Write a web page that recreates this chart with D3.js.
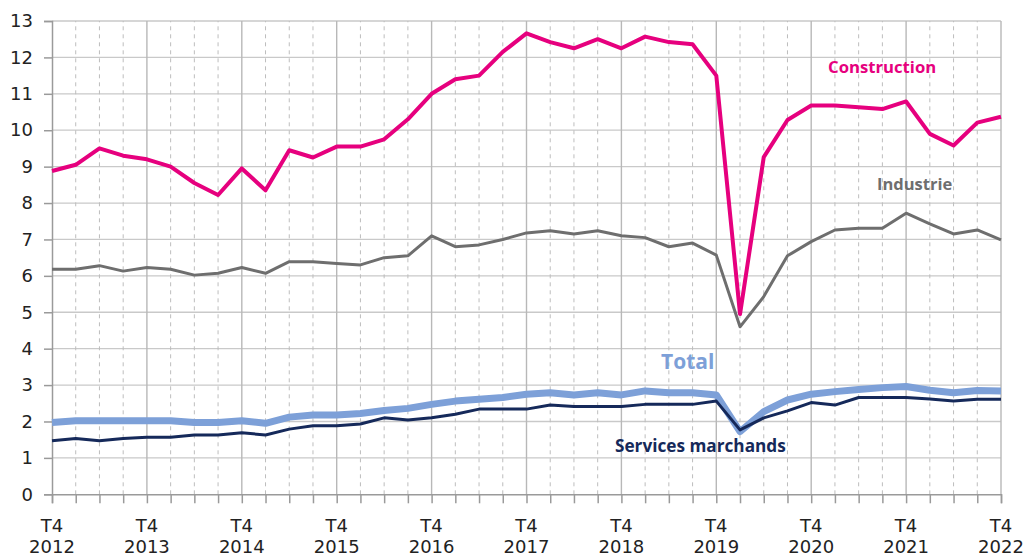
<!DOCTYPE html>
<html><head><meta charset="utf-8">
<script src="https://cdn.jsdelivr.net/npm/d3@7"></script>
<style>body{margin:0;background:#fff}svg{display:block}</style>
</head><body>
<svg id="c" width="1029" height="557"></svg>
<script>
// Quarters from T4 2012 to T4 2022 (41 points)
const years = ["2012","2013","2014","2015","2016","2017","2018","2019","2020","2021","2022"];
const quarters = d3.range(41);
const construction = [8.88,9.05,9.5,9.3,9.2,9.0,8.55,8.22,8.95,8.35,9.45,9.25,9.55,9.55,9.75,10.3,11.0,11.4,11.5,12.15,12.66,12.42,12.25,12.5,12.25,12.57,12.42,12.36,11.5,4.95,9.26,10.28,10.68,10.68,10.63,10.58,10.79,9.9,9.58,10.21,10.37];
const industrie = [6.18,6.18,6.28,6.13,6.23,6.18,6.02,6.07,6.23,6.07,6.39,6.39,6.34,6.3,6.5,6.55,7.1,6.8,6.85,7.0,7.18,7.24,7.15,7.24,7.1,7.05,6.8,6.9,6.57,4.6,5.43,6.55,6.94,7.26,7.31,7.31,7.72,7.43,7.15,7.26,6.99];
const total = [1.97,2.02,2.02,2.02,2.02,2.02,1.97,1.97,2.02,1.95,2.12,2.18,2.18,2.22,2.3,2.36,2.47,2.56,2.61,2.66,2.75,2.79,2.73,2.79,2.73,2.84,2.79,2.79,2.73,1.72,2.27,2.59,2.75,2.82,2.88,2.93,2.96,2.86,2.79,2.85,2.84];
const services = [1.47,1.53,1.47,1.53,1.57,1.57,1.63,1.63,1.69,1.63,1.79,1.88,1.88,1.93,2.1,2.04,2.1,2.2,2.34,2.34,2.34,2.45,2.41,2.41,2.41,2.47,2.47,2.47,2.56,1.77,2.1,2.29,2.52,2.45,2.66,2.66,2.66,2.62,2.56,2.61,2.61];
const yTicks = d3.range(0,14);

const svg = d3.select("#c");
const x = d3.scaleLinear().domain([0,40]).range([52,1001]);
const y = d3.scaleLinear().domain([0,13]).range([494.3,21]);

// horizontal grid
svg.append("g").selectAll("line").data(yTicks.filter(d=>d>0)).join("line")
  .attr("x1",x(0)).attr("x2",x(40)).attr("y1",d=>y(d)).attr("y2",d=>y(d))
  .attr("stroke","#c9c9c9").attr("stroke-width",1.3);
// vertical grid
svg.append("g").selectAll("line").data(quarters.filter(d=>d>0)).join("line")
  .attr("x1",d=>x(d)).attr("x2",d=>x(d)).attr("y1",y(0)).attr("y2",y(13))
  .attr("stroke",d=>d%4===0?"#b8b8b8":"#bdbdbd")
  .attr("stroke-width",d=>d%4===0?1.4:1)
  .attr("stroke-dasharray",d=>d%4===0?null:"4,4");

// y axis
const yAxis = d3.axisLeft(y).tickValues(yTicks).tickSize(8).tickPadding(11).tickFormat(d3.format("d"));
const gy = svg.append("g").attr("transform",`translate(${x(0)},0)`).call(yAxis);
gy.select(".domain").attr("stroke","#9a9a9a").attr("stroke-width",1.5);
gy.selectAll(".tick line").attr("stroke","#9a9a9a").attr("stroke-width",1.5);
gy.selectAll("text").attr("font-family","DejaVu Sans").attr("font-size",18).attr("fill","#222");

// x axis
const xAxis = d3.axisBottom(x).tickValues(quarters).tickSize(9).tickFormat("");
const gx = svg.append("g").attr("transform",`translate(0,${y(0)})`).call(xAxis);
gx.select(".domain").attr("stroke","#9a9a9a").attr("stroke-width",1.5);
gx.selectAll(".tick line").attr("stroke","#9a9a9a").attr("stroke-width",1.5);
const xl = svg.append("g").selectAll("text").data(years).join("text")
  .attr("x",(d,i)=>x(i*4)).attr("text-anchor","middle")
  .attr("font-family","DejaVu Sans").attr("font-size",18).attr("fill","#222");
xl.append("tspan").attr("x",(d,i)=>x(i*4)).attr("y",532).text("T4");
xl.append("tspan").attr("x",(d,i)=>x(i*4)).attr("y",553).text(d=>d);

const line = d3.line().x((d,i)=>x(i)).y(d=>y(d));
function draw(data,color,w){
  svg.append("path").datum(data).attr("d",line).attr("fill","none")
    .attr("stroke",color).attr("stroke-width",w).attr("stroke-linejoin","round");
}
draw(industrie,"#6e6e6e",3);
draw(construction,"#e6007e",4);
draw(total,"#7da0d8",7);
draw(services,"#15295a",3);

function label(t,xx,yy,color,size){
  svg.append("text").attr("x",xx).attr("y",yy).text(t)
    .attr("font-family","Open Sans").attr("font-weight","bold")
    .attr("font-size",size).attr("fill",color);
}
label("Construction",828,73,"#e6007e",16.7);
label("Industrie",877,190,"#6e6e6e",16.5);
label("Total",661,369,"#7da0d8",21);
label("Services marchands",615,452,"#15295a",17.2);
</script>
</body></html>
